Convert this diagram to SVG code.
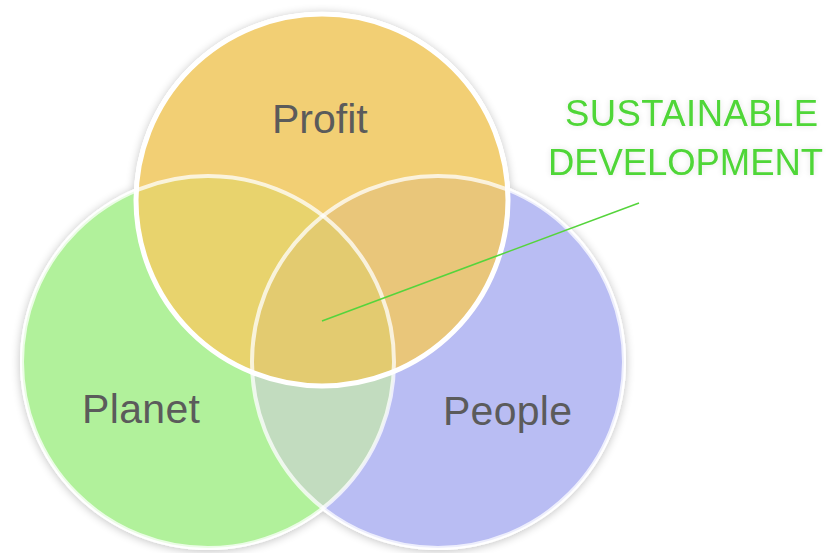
<svg xmlns="http://www.w3.org/2000/svg" width="830" height="553" viewBox="0 0 830 553">
<style>
.lbl{font-family:"Liberation Sans",Arial,sans-serif;font-size:41px;fill:#5b5b5b}
.sd{font-family:"Liberation Sans",Arial,sans-serif;font-size:36.5px;fill:#4fd637}
.ring{fill:none;stroke:#ffffff;stroke-opacity:0.75;stroke-width:4}
</style>
<defs>
<filter id="sh" x="-20%" y="-20%" width="140%" height="140%">
<feGaussianBlur in="SourceAlpha" stdDeviation="5"/>
<feOffset dx="0" dy="1" result="b"/>
<feComponentTransfer><feFuncA type="linear" slope="0.25"/></feComponentTransfer>
<feMerge><feMergeNode/><feMergeNode in="SourceGraphic"/></feMerge>
</filter>
<filter id="glow" x="-10%" y="-30%" width="120%" height="160%">
<feGaussianBlur in="SourceAlpha" stdDeviation="3"/>
<feComponentTransfer><feFuncA type="linear" slope="0.12"/></feComponentTransfer>
<feMerge><feMergeNode/><feMergeNode in="SourceGraphic"/></feMerge>
</filter>
<clipPath id="cPlanet"><circle cx="208" cy="362" r="186"/></clipPath>
<clipPath id="cPeople"><circle cx="438" cy="362" r="186"/></clipPath>
<clipPath id="cProfit"><circle cx="322" cy="200" r="186"/></clipPath>
</defs>
<rect width="830" height="553" fill="#ffffff"/>
<g id="shadows" filter="url(#sh)">
<circle cx="208" cy="362" r="188" fill="#ffffff"/>
<circle cx="438" cy="362" r="188" fill="#ffffff"/>
<circle cx="322" cy="200" r="188" fill="#ffffff"/>
</g>
<g id="planet">
<circle cx="208" cy="362" r="186" fill="#b1f19b"/>
</g>
<g id="people">
<circle cx="438" cy="362" r="186" fill="#b9bdf3"/>
<circle cx="438" cy="362" r="186" fill="#c2dcbf" clip-path="url(#cPlanet)"/>
</g>
<g id="profit">
<circle cx="322" cy="200" r="186" fill="#f2cf74"/>
<g clip-path="url(#cProfit)">
<circle cx="208" cy="362" r="186" fill="#e8d36d"/>
<circle cx="438" cy="362" r="186" fill="#e9c67a"/>
<circle cx="438" cy="362" r="186" fill="#e3cb70" clip-path="url(#cPlanet)"/>
</g>
</g>
<g id="rings">
<circle class="ring" cx="208" cy="362" r="186"/>
<circle class="ring" cx="438" cy="362" r="186"/>
<circle cx="322" cy="200" r="186" fill="none" stroke="#ffffff" stroke-width="5"/>
</g>
<g id="connectors">
<line x1="322" y1="321" x2="639" y2="203" stroke="#55d43c" stroke-width="1.6"/>
</g>
<g id="labels">
<text class="lbl" x="272" y="133">Profit</text>
<text class="lbl" x="82" y="423" textLength="118">Planet</text>
<text class="lbl" x="443" y="425" textLength="129">People</text>
</g>
<g id="sustainable" filter="url(#glow)">
<text class="sd" x="565" y="126" textLength="253">SUSTAINABLE</text>
<text class="sd" x="548" y="175" textLength="275">DEVELOPMENT</text>
</g>
</svg>
